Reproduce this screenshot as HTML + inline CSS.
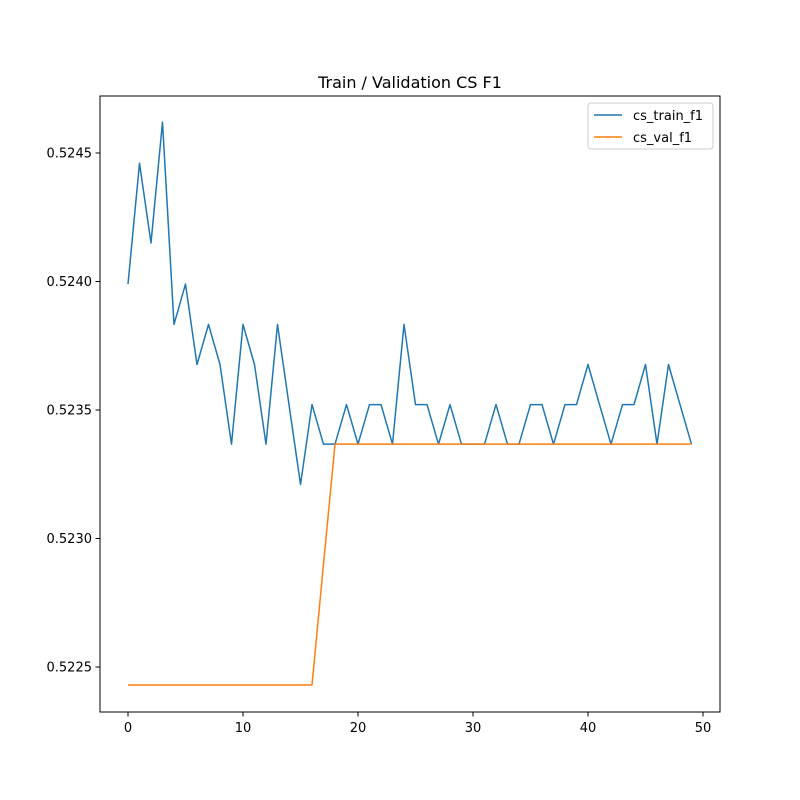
<!DOCTYPE html>
<html><head><meta charset="utf-8"><style>
body{margin:0;background:#fff;}
svg{display:block;font-family:"DejaVu Sans","Liberation Sans",sans-serif;}
</style></head><body>
<svg id="chart" width="800" height="800"></svg>
<script>
const epochs = Array.from({length:50},(_,i)=>i);
const trainF1 = [0.52399,0.52446,0.52415,0.52462,0.523833,0.52399,0.523677,0.523833,0.523677,0.523367,
0.523833,0.523677,0.523367,0.523833,0.523521,0.52321,0.523521,0.523367,0.523367,0.523521,
0.523367,0.523521,0.523521,0.523367,0.523833,0.523521,0.523521,0.523367,0.523521,0.523367,
0.523367,0.523367,0.523521,0.523367,0.523367,0.523521,0.523521,0.523367,0.523521,0.523521,
0.523677,0.523521,0.523367,0.523521,0.523521,0.523677,0.523367,0.523677,0.523521,0.523367];
const valF1 = [0.52243,0.52243,0.52243,0.52243,0.52243,0.52243,0.52243,0.52243,0.52243,0.52243,
0.52243,0.52243,0.52243,0.52243,0.52243,0.52243,0.52243,0.5229,0.523367,0.523367,
0.523367,0.523367,0.523367,0.523367,0.523367,0.523367,0.523367,0.523367,0.523367,0.523367,
0.523367,0.523367,0.523367,0.523367,0.523367,0.523367,0.523367,0.523367,0.523367,0.523367,
0.523367,0.523367,0.523367,0.523367,0.523367,0.523367,0.523367,0.523367,0.523367,0.523367];
const xTicks = [0,10,20,30,40,50];
const yTicks = [0.5225,0.5230,0.5235,0.5240,0.5245];
const yTickLabels = ["0.5225","0.5230","0.5235","0.5240","0.5245"];

const L=100,R=720,T=96,B=712;
const sx = v => 128 + v*11.5;
const sy = v => 667 - (v-0.5225)/0.0005*128.5;
const NS="http://www.w3.org/2000/svg";
const svg=document.getElementById('chart');
function mk(tag,attrs,parent){const e=document.createElementNS(NS,tag);for(const k in attrs)e.setAttribute(k,attrs[k]);(parent||svg).appendChild(e);return e;}

const title=mk('text',{x:410,y:88,'text-anchor':'middle','font-size':16,fill:'#000'});
title.textContent='Train / Validation CS F1';



xTicks.forEach(t=>{
  const g=mk('g',{});
  
  
  mk('line',{x1:sx(t),x2:sx(t),y1:B,y2:B+4.5,stroke:'#000','stroke-width':1},g);
  const tx=mk('text',{x:sx(t),y:B+20,'text-anchor':'middle','font-size':13,fill:'#000'},g);
  tx.textContent=t;
});
yTicks.forEach((t,i)=>{
  const g=mk('g',{});
  
  
  mk('line',{x1:L-4.5,x2:L,y1:sy(t),y2:sy(t),stroke:'#000','stroke-width':1},g);
  const tx=mk('text',{x:L-8,y:sy(t)+4.5,'text-anchor':'end','font-size':13,fill:'#000'},g);
  tx.textContent=yTickLabels[i];
});

function series(vals,color,name){
  const p=mk('polyline',{points:vals.map((v,i)=>sx(epochs[i])+','+sy(v)).join(' '),fill:'none',stroke:color,'stroke-width':1.5,'stroke-linejoin':'round'});
  
  
}
series(trainF1,'#1f77b4','cs-train-f1-line');
series(valF1,'#ff7f0e','cs-val-f1-line');

const frame=mk('rect',{x:L,y:T,width:R-L,height:B-T,fill:'none',stroke:'#000','stroke-width':1});



const lg=mk('g',{});


mk('rect',{x:588,y:103,width:125,height:46,rx:3,fill:'#fff',stroke:'#ccc','stroke-width':1},lg);
[['cs_train_f1','#1f77b4',115],['cs_val_f1','#ff7f0e',137]].forEach(([n,c,y])=>{
  const e=mk('g',{},lg);
  
  
  mk('line',{x1:594,x2:622,y1:y,y2:y,stroke:c,'stroke-width':1.5},e);
  const t=mk('text',{x:633,y:y+5,'font-size':13,fill:'#000'},e);
  t.textContent=n;
});
</script>
</body></html>
